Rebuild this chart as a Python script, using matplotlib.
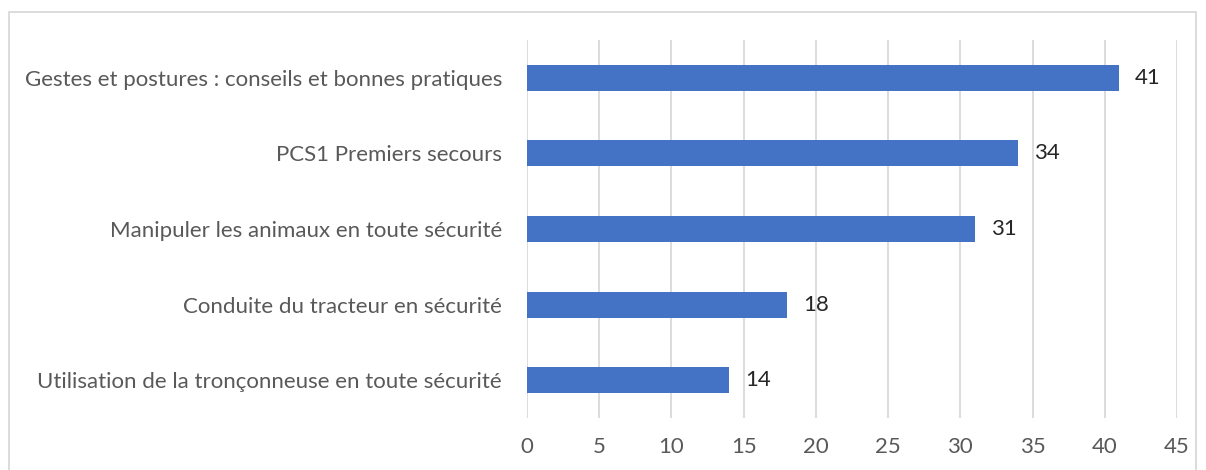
import matplotlib.pyplot as plt
from matplotlib.patches import Rectangle

categories = ["Utilisation de la tronçonneuse en toute sécurité",
              "Conduite du tracteur en sécurité",
              "Manipuler les animaux en toute sécurité",
              "PCS1 Premiers secours",
              "Gestes et postures : conseils et bonnes pratiques"]
values = [14, 18, 31, 34, 41]
xticks = [0, 5, 10, 15, 20, 25, 30, 35, 40, 45]

plt.rcParams['font.family'] = ['Lato', 'DejaVu Sans']

W, H = 1206, 470
fig = plt.figure(figsize=(W / 100, H / 100), dpi=100)
ax = fig.add_axes([527 / W, 1 - 418 / H, (1177 - 527) / W, (418 - 40) / H])

ax.barh(range(len(values)), values, height=0.345, color='#4472C4', zorder=3)
for i, v in enumerate(values):
    ax.text(v + 1.1, i, str(v), va='center', ha='left', fontsize=16, color='#262626')

ax.set_xlim(0, 45)
ax.set_ylim(-0.5, len(values) - 0.5)
ax.set_xticks(xticks)
ax.set_yticks(range(len(values)))
ax.set_yticklabels(categories)
ax.tick_params(axis='both', length=0, labelsize=16, colors='#595959')
ax.tick_params(axis='x', pad=14)
ax.tick_params(axis='y', pad=18)
ax.grid(axis='x', color='#D9D9D9', linewidth=1.3, zorder=0)
for s in ax.spines.values():
    s.set_visible(False)

# chart border
fig.patches.append(Rectangle((9 / W, -0.1), (1196 - 9) / W, 1.1 - 12 / H,
                             transform=fig.transFigure, fill=False,
                             edgecolor='#D9D9D9', linewidth=1.3))

fig.savefig('out.png', dpi=100)
